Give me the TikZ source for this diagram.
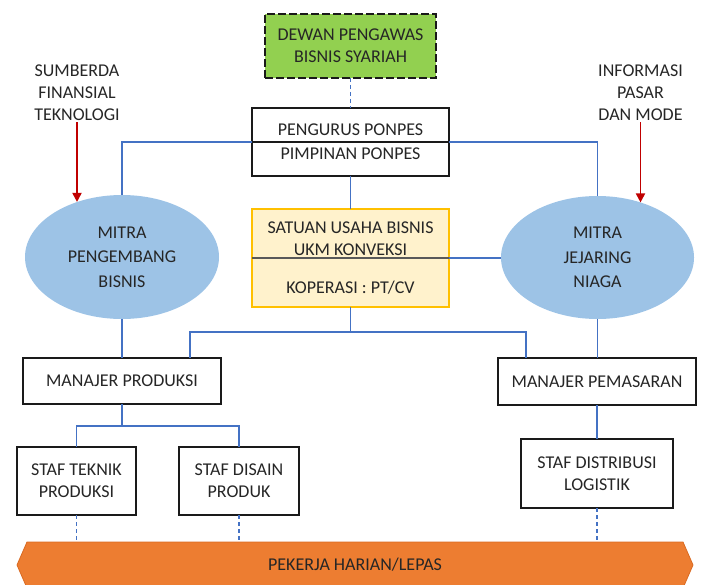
\documentclass[tikz,border=0pt]{standalone}
\usepackage{fontspec}
\setmainfont{Carlito}
\usetikzlibrary{shapes.geometric,arrows.meta,backgrounds}
\definecolor{txt}{HTML}{262626}
\definecolor{boxline}{HTML}{1A1A1A}
\definecolor{linkblue}{HTML}{4472C4}
\definecolor{sprvgreen}{HTML}{92D050}
\definecolor{unitfill}{HTML}{FFF2CC}
\definecolor{unitline}{HTML}{FFC000}
\definecolor{partner}{HTML}{9DC3E6}
\definecolor{inflow}{HTML}{C00000}
\definecolor{workers}{HTML}{ED7D31}
\definecolor{workersline}{HTML}{D96A22}
\begin{document}
\begin{tikzpicture}[x=1pt,y=-1pt,
  every node/.style={text=txt, font=\fontsize{18}{22}\selectfont,
    inner sep=0pt, outer sep=0pt, align=center},
  box/.style={rectangle, draw=boxline, line width=1.5pt, fill=white},
  partnerbox/.style={ellipse, fill=partner,
    font=\fontsize{18}{24.5}\selectfont},
  link/.style={draw=linkblue, line width=1.1pt},
  dashlink/.style={draw=linkblue, line width=1.1pt, dash pattern=on 4pt off 3pt},
  inarrow/.style={draw=inflow, line width=1.8pt,
    -{Triangle[width=9pt,length=9pt]}}]
\useasboundingbox (0,0) rectangle (703,585);

% supervisory board and management
\node[rectangle, fill=sprvgreen, draw=boxline, line width=2pt,
  dash pattern=on 8pt off 3pt, minimum width=171, minimum height=64]
  (dewan) at (350.5,46) {DEWAN PENGAWAS\\BISNIS SYARIAH};
\node[box, minimum width=197, minimum height=68,
  font=\fontsize{18}{24}\selectfont]
  (pengurus) at (350.5,142) {PENGURUS PONPES\\PIMPINAN PONPES};
\draw[boxline, line width=1.3pt] (pengurus.west) -- (pengurus.east);

% business unit
\node[rectangle, fill=unitfill, draw=unitline, line width=1.6pt,
  minimum width=197, minimum height=98] (satuan) at (350.5,258) {};
\draw[black!65, line width=1.3pt] (satuan.west) -- (satuan.east);
\node (satTop) at (350.5,239) {SATUAN USAHA BISNIS\\UKM KONVEKSI};
\node (satBot) at (350.5,288) {KOPERASI : PT/CV};

% partner ellipses
\node[partnerbox, minimum width=194, minimum height=124]
  (mitraL) at (122,257) {MITRA\\PENGEMBANG\\BISNIS};
\node[partnerbox, minimum width=193, minimum height=123]
  (mitraR) at (597.5,257.5) {MITRA\\JEJARING\\NIAGA};

% external inputs
\node[inner sep=2pt] (srcL) at (77,92.5) {SUMBERDA\\FINANSIAL\\TEKNOLOGI};
\node[inner sep=2pt] (srcR) at (640.5,92.5) {INFORMASI\\PASAR\\DAN MODE};
\draw[inarrow] (srcL.south) -- (srcL.south |- mitraL.129);
\draw[inarrow] (srcR.south) -- (srcR.south |- mitraR.52);

% managers and staff
\node[box, minimum width=198, minimum height=46] (manP) at (122,381) {MANAJER PRODUKSI};
\node[box, minimum width=198, minimum height=47] (manM) at (597,381.5) {MANAJER PEMASARAN};
\node[box, minimum width=119, minimum height=68] (stafT) at (76.5,481) {STAF TEKNIK\\PRODUKSI};
\node[box, minimum width=120, minimum height=68] (stafD) at (239,481) {STAF DISAIN\\PRODUK};
\node[box, minimum width=152, minimum height=69] (stafL) at (597,473.5) {STAF DISTRIBUSI\\LOGISTIK};

% day workers band
\node[minimum width=656, minimum height=46] (bar) at (355,565) {PEKERJA HARIAN/LEPAS};
\begin{scope}[on background layer]
  \draw[fill=workers, draw=workersline, line width=0.8pt]
    (bar.north west) -- (bar.north east) -- ([xshift=10]bar.east)
    -- (bar.south east) -- (bar.south west) -- ([xshift=-10]bar.west) -- cycle;
\end{scope}

% connectors
\coordinate (hub) at (350.5,332);
\coordinate (fork) at (122,426);
\draw[dashlink] (dewan.south) -- (pengurus.north);
\draw[link] (pengurus.west) -| (mitraL.north);
\draw[link] (pengurus.east) -| (mitraR.north);
\draw[link] (pengurus.south) -- (satuan.north);
\draw[link] (satuan.east) -- (satuan.east -| mitraR.west);
\draw[link] (satuan.south) -- (hub) -| ([xshift=68]manP.north);
\draw[link] (hub) -| ([xshift=-71]manM.north);
\draw[link] (mitraL.south) -- (manP.north);
\draw[link] (mitraR.south) -- (mitraR.south |- manM.north);
\draw[link] (manP.south) -- (fork) -| (stafT.north);
\draw[link] (fork) -| (stafD.north);
\draw[link] (manM.south) -- (stafL.north);
\draw[dashlink] (stafT.south) -- (stafT.south |- bar.north);
\draw[dashlink] (stafD.south) -- (stafD.south |- bar.north);
\draw[dashlink] (stafL.south) -- (stafL.south |- bar.north);
\end{tikzpicture}
\end{document}
